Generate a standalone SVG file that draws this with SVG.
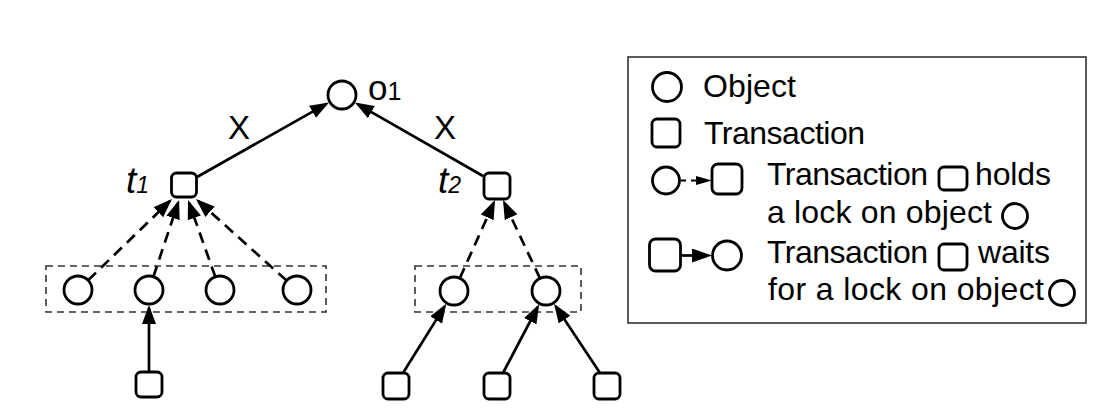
<svg xmlns="http://www.w3.org/2000/svg" width="1113" height="414" viewBox="0 0 1113 414">
<style>
.obj{fill:#fff;stroke:#000;stroke-width:2.8}
.tx{fill:#fff;stroke:#000;stroke-width:2.8}
.grp{fill:none;stroke:#333;stroke-width:1.6;stroke-dasharray:7 5}
.wait{fill:none;stroke:#000;stroke-width:2.7;marker-end:url(#ah)}
.hold{fill:none;stroke:#000;stroke-width:2.7;stroke-dasharray:11 7;marker-end:url(#ah)}
.lbl{font-family:"Liberation Sans",Arial,sans-serif;fill:#000}
.leg{font-family:"Liberation Sans",Arial,sans-serif;font-size:32px;fill:#000}
</style>
<defs>
<marker id="ah" markerUnits="userSpaceOnUse" markerWidth="22" markerHeight="16" refX="16" refY="7" orient="auto"><path d="M0,0 L19,7 L0,14 z" fill="#000"/></marker>
<marker id="ahs" markerUnits="userSpaceOnUse" markerWidth="17" markerHeight="10" refX="0" refY="4.5" orient="auto"><path d="M0,0 L16,4.5 L0,9 z" fill="#000"/></marker>
<marker id="ahl" markerUnits="userSpaceOnUse" markerWidth="21" markerHeight="15" refX="0" refY="7" orient="auto"><path d="M0,0 L20,7 L0,14 z" fill="#000"/></marker>
</defs>
<rect width="1113" height="414" fill="#fff"/>

<g id="groups">
<rect class="grp" x="46" y="266" width="280" height="46"/>
<rect class="grp" x="415" y="266" width="166" height="46"/>
</g>

<g id="connectors">
<path class="wait" d="M197,177 L326.4,103.9"/>
<path class="wait" d="M483,176 L357.5,104.1"/>
<path class="hold" d="M88.1,280.3 L169.8,201.1"/>
<path class="hold" d="M153.4,276.7 L178.1,202.8"/>
<path class="hold" d="M215.3,276.8 L189,202.8"/>
<path class="hold" d="M286.6,280.6 L198.2,201"/>
<path class="hold" d="M459.8,278.2 L493.8,202.7"/>
<path class="hold" d="M540,278.3 L504.3,202.7"/>
<path class="wait" d="M149,372 L149,308"/>
<path class="wait" d="M403,373 L444.6,306.4"/>
<path class="wait" d="M503,373 L537.7,307"/>
<path class="wait" d="M600,373 L555.7,306.2"/>
</g>

<g id="o1"><circle class="obj" cx="342" cy="95" r="14"/>
<text class="lbl" x="368" y="100" font-size="35">o<tspan font-size="25">1</tspan></text></g>
<g id="t1"><rect class="tx" x="171.5" y="173" width="25" height="24" rx="5"/>
<text class="lbl" x="126" y="193" font-size="37" font-style="italic">t<tspan font-size="23">1</tspan></text></g>
<g id="t2"><rect class="tx" x="484" y="173" width="26" height="26" rx="5"/>
<text class="lbl" x="438" y="193" font-size="37" font-style="italic">t<tspan font-size="23">2</tspan></text></g>

<g id="labelX1"><text class="lbl" x="239" y="139" font-size="33" text-anchor="middle">X</text></g>
<g id="labelX2"><text class="lbl" x="445" y="139" font-size="33" text-anchor="middle">X</text></g>

<g id="obj-a"><circle class="obj" cx="78" cy="290" r="14"/></g>
<g id="obj-b"><circle class="obj" cx="149" cy="290" r="14"/></g>
<g id="obj-c"><circle class="obj" cx="220" cy="290" r="14"/></g>
<g id="obj-d"><circle class="obj" cx="297" cy="290" r="14"/></g>
<g id="obj-e"><circle class="obj" cx="454" cy="291" r="14"/></g>
<g id="obj-f"><circle class="obj" cx="546" cy="291" r="14"/></g>

<g id="tx-a"><rect class="tx" x="136" y="372" width="26" height="25" rx="5"/></g>
<g id="tx-b"><rect class="tx" x="383" y="373" width="26" height="26" rx="5"/></g>
<g id="tx-c"><rect class="tx" x="484" y="373" width="26" height="26" rx="5"/></g>
<g id="tx-d"><rect class="tx" x="594" y="373" width="26" height="26" rx="5"/></g>

<g id="legend">
<rect x="628" y="57" width="458" height="266" fill="none" stroke="#333" stroke-width="1.6"/>
<circle class="obj" cx="667" cy="87" r="14.5"/>
<text class="leg" x="703" y="97" textLength="93" lengthAdjust="spacing">Object</text>
<rect class="tx" x="652" y="119" width="28" height="28" rx="5"/>
<text class="leg" x="704" y="144" textLength="161" lengthAdjust="spacing">Transaction</text>

<circle class="obj" cx="666" cy="180.5" r="13.5"/>
<path d="M681,180.5 L696,180.5" stroke="#000" stroke-width="2" stroke-dasharray="5 5" marker-end="url(#ahs)"/>
<rect class="tx" x="712" y="164" width="30" height="30" rx="6"/>
<text class="leg" x="767" y="185" textLength="161" lengthAdjust="spacing">Transaction</text>
<rect class="tx" x="939" y="167" width="28" height="23" rx="5"/>
<text class="leg" x="975" y="185" textLength="76" lengthAdjust="spacing">holds</text>
<text class="leg" x="767" y="223" textLength="225" lengthAdjust="spacing">a lock on object</text>
<circle class="obj" cx="1015" cy="216" r="12.5"/>

<rect class="tx" x="649.5" y="239" width="31" height="32" rx="6"/>
<path d="M681,255.5 L692,255.5" stroke="#000" stroke-width="2.7" marker-end="url(#ahl)"/>
<circle class="obj" cx="727" cy="255.5" r="14.5"/>
<text class="leg" x="767" y="263" textLength="161" lengthAdjust="spacing">Transaction</text>
<rect class="tx" x="939" y="244" width="28" height="26" rx="5"/>
<text class="leg" x="978" y="263" textLength="72" lengthAdjust="spacing">waits</text>
<text class="leg" x="768" y="300" textLength="276" lengthAdjust="spacing">for a lock on object</text>
<circle class="obj" cx="1062" cy="293" r="12.5"/>
</g>
</svg>
